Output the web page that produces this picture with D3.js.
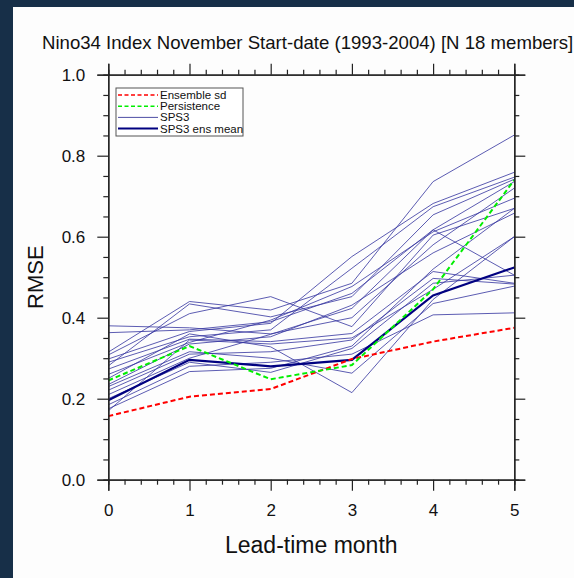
<!DOCTYPE html>
<html>
<head>
<meta charset="utf-8">
<script src="https://cdn.jsdelivr.net/npm/d3@7"></script>
<style>
  html, body { margin: 0; padding: 0; background: #172f48; }
  svg { display: block; font-family: "Liberation Sans", Arial, Helvetica, sans-serif; }
</style>
</head>
<body>
<div id="chart"></div>
<script>
// lead-time months on the x axis
const leadMonths = [0, 1, 2, 3, 4, 5];
const yTicks = [0.0, 0.2, 0.4, 0.6, 0.8, 1.0];

// RMSE of each SPS3 member (18 members)
const sps3Members = [
  [0.380, 0.375, 0.360, 0.400, 0.580, 0.720],
  [0.363, 0.370, 0.390, 0.460, 0.617, 0.505],
  [0.315, 0.440, 0.419, 0.485, 0.736, 0.851],
  [0.308, 0.410, 0.452, 0.378, 0.604, 0.670],
  [0.298, 0.366, 0.386, 0.551, 0.682, 0.759],
  [0.290, 0.353, 0.370, 0.522, 0.674, 0.747],
  [0.281, 0.434, 0.402, 0.452, 0.654, 0.742],
  [0.273, 0.347, 0.341, 0.361, 0.514, 0.485],
  [0.260, 0.339, 0.394, 0.477, 0.612, 0.695],
  [0.250, 0.360, 0.328, 0.215, 0.445, 0.600],
  [0.235, 0.335, 0.353, 0.431, 0.560, 0.658],
  [0.230, 0.316, 0.300, 0.263, 0.435, 0.478],
  [0.221, 0.310, 0.316, 0.345, 0.497, 0.483],
  [0.210, 0.300, 0.359, 0.423, 0.617, 0.736],
  [0.200, 0.290, 0.265, 0.324, 0.485, 0.505],
  [0.185, 0.280, 0.290, 0.310, 0.407, 0.412],
  [0.175, 0.267, 0.275, 0.330, 0.520, 0.670],
  [0.170, 0.345, 0.335, 0.350, 0.470, 0.600]
];
const sps3EnsMean = [0.196, 0.296, 0.280, 0.296, 0.455, 0.524];
const persistence = [0.245, 0.330, 0.248, 0.283, 0.470, 0.740];
const ensembleSd = [0.157, 0.205, 0.224, 0.298, 0.341, 0.375];

const legendItems = [
  {label: `Ensemble sd`, color: `#ff0000`, width: 1.6, dash: `4,2.5`},
  {label: `Persistence`, color: `#00ee00`, width: 1.6, dash: `4,2.5`},
  {label: `SPS3`, color: `#3a3a9a`, width: 0.9, dash: null},
  {label: `SPS3 ens mean`, color: `#000080`, width: 2, dash: null}
];

const W = 574, H = 578;
const plot = {left: 108.3, right: 514.3, top: 74.7, bottom: 479.7};

const svg = d3.select(`#chart`).append(`svg`)
  .attr(`width`, W)
  .attr(`height`, H);

// white panel on the dark page
svg.append(`rect`)
  .attr(`x`, 13).attr(`y`, 7)
  .attr(`width`, W - 13).attr(`height`, H - 7)
  .attr(`fill`, `#fdfdfd`);

const x = d3.scaleLinear().domain([0, 5]).range([plot.left, plot.right]);
const y = d3.scaleLinear().domain([0, 1]).range([plot.bottom, plot.top]);

const line = d3.line()
  .x((d, i) => x(leadMonths[i]))
  .y(d => y(d));

const g = svg.append(`g`);

// member spaghetti
g.selectAll(`.member`)
  .data(sps3Members)
  .enter().append(`path`)
    .attr(`class`, `member`)
    .attr(`d`, line)
    .attr(`fill`, `none`)
    .attr(`stroke`, `#3535a0`)
    .attr(`stroke-opacity`, 0.9)
    .attr(`stroke-width`, 0.9);

g.append(`path`)
  .attr(`d`, line(sps3EnsMean))
  .attr(`fill`, `none`)
  .attr(`stroke`, `#000080`)
  .attr(`stroke-width`, 2.2);

g.append(`path`)
  .attr(`d`, line(ensembleSd))
  .attr(`fill`, `none`)
  .attr(`stroke`, `#ff0000`)
  .attr(`stroke-width`, 2)
  .attr(`stroke-dasharray`, `5,3`);

g.append(`path`)
  .attr(`d`, line(persistence))
  .attr(`fill`, `none`)
  .attr(`stroke`, `#00ee00`)
  .attr(`stroke-width`, 2)
  .attr(`stroke-dasharray`, `5,3`);

// axes: outward ticks on all four sides, labels only bottom/left
const xMinor = d3.range(0, 5.0001, 0.2).filter(v => Math.abs(v - Math.round(v)) > 1e-6);
const yMinor = d3.range(0, 1.0001, 0.05).filter(v => Math.abs(v * 5 - Math.round(v * 5)) > 1e-6);

const axisColor = `#222`;
const addAxis = (axisFn, scale, transform, values, size, labels, pad) => {
  const a = svg.append(`g`)
    .attr(`transform`, transform)
    .call(axisFn(scale)
      .tickValues(values)
      .tickSize(size)
      .tickPadding(pad || 7)
      .tickFormat(labels ? labels : ``));
  a.select(`.domain`).attr(`stroke`, axisColor).attr(`stroke-width`, 1.3);
  a.selectAll(`.tick line`).attr(`stroke`, axisColor).attr(`stroke-width`, 1.2);
  a.selectAll(`text`).attr(`font-size`, 17).attr(`fill`, `#111`)
    .attr(`font-family`, `"Liberation Sans", Arial, sans-serif`);
  return a;
};

addAxis(d3.axisBottom, x, `translate(0,${plot.bottom})`, leadMonths, 11, d3.format(`d`), 13);
addAxis(d3.axisBottom, x, `translate(0,${plot.bottom})`, xMinor, 5, null);
addAxis(d3.axisTop, x, `translate(0,${plot.top})`, leadMonths, 11, null);
addAxis(d3.axisTop, x, `translate(0,${plot.top})`, xMinor, 5, null);
addAxis(d3.axisLeft, y, `translate(${plot.left},0)`, yTicks, 11, d3.format(`.1f`), 12);
addAxis(d3.axisLeft, y, `translate(${plot.left},0)`, yMinor, 5, null);
addAxis(d3.axisRight, y, `translate(${plot.right},0)`, yTicks, 11, null);
addAxis(d3.axisRight, y, `translate(${plot.right},0)`, yMinor, 5, null);

// titles
svg.append(`text`)
  .attr(`x`, 42).attr(`y`, 49)
  .attr(`font-size`, 18.6)
  .attr(`fill`, `#111`)
  .text(`Nino34 Index November Start-date (1993-2004) [N 18 members]`);

svg.append(`text`)
  .attr(`x`, (plot.left + plot.right) / 2).attr(`y`, 553)
  .attr(`text-anchor`, `middle`)
  .attr(`font-size`, 23)
  .attr(`fill`, `#111`)
  .text(`Lead-time month`);

svg.append(`text`)
  .attr(`transform`, `translate(43,${(plot.top + plot.bottom) / 2}) rotate(-90)`)
  .attr(`text-anchor`, `middle`)
  .attr(`font-size`, 22)
  .attr(`fill`, `#111`)
  .text(`RMSE`);

// legend
const legend = svg.append(`g`).attr(`transform`, `translate(116,88)`);
legend.append(`rect`)
  .attr(`width`, 127).attr(`height`, 48)
  .attr(`fill`, `#fff`)
  .attr(`stroke`, `#555`)
  .attr(`stroke-width`, 1);

const rows = legend.selectAll(`.row`)
  .data(legendItems)
  .enter().append(`g`)
    .attr(`class`, `row`)
    .attr(`transform`, (d, i) => `translate(0,${7 + i * 11.2})`);

rows.append(`line`)
  .attr(`x1`, 2).attr(`x2`, 42)
  .attr(`stroke`, d => d.color)
  .attr(`stroke-width`, d => d.width)
  .attr(`stroke-dasharray`, d => d.dash);

rows.append(`text`)
  .attr(`x`, 44).attr(`y`, 4)
  .attr(`font-size`, 11.5)
  .attr(`fill`, `#111`)
  .text(d => d.label);
</script>
</body>
</html>
